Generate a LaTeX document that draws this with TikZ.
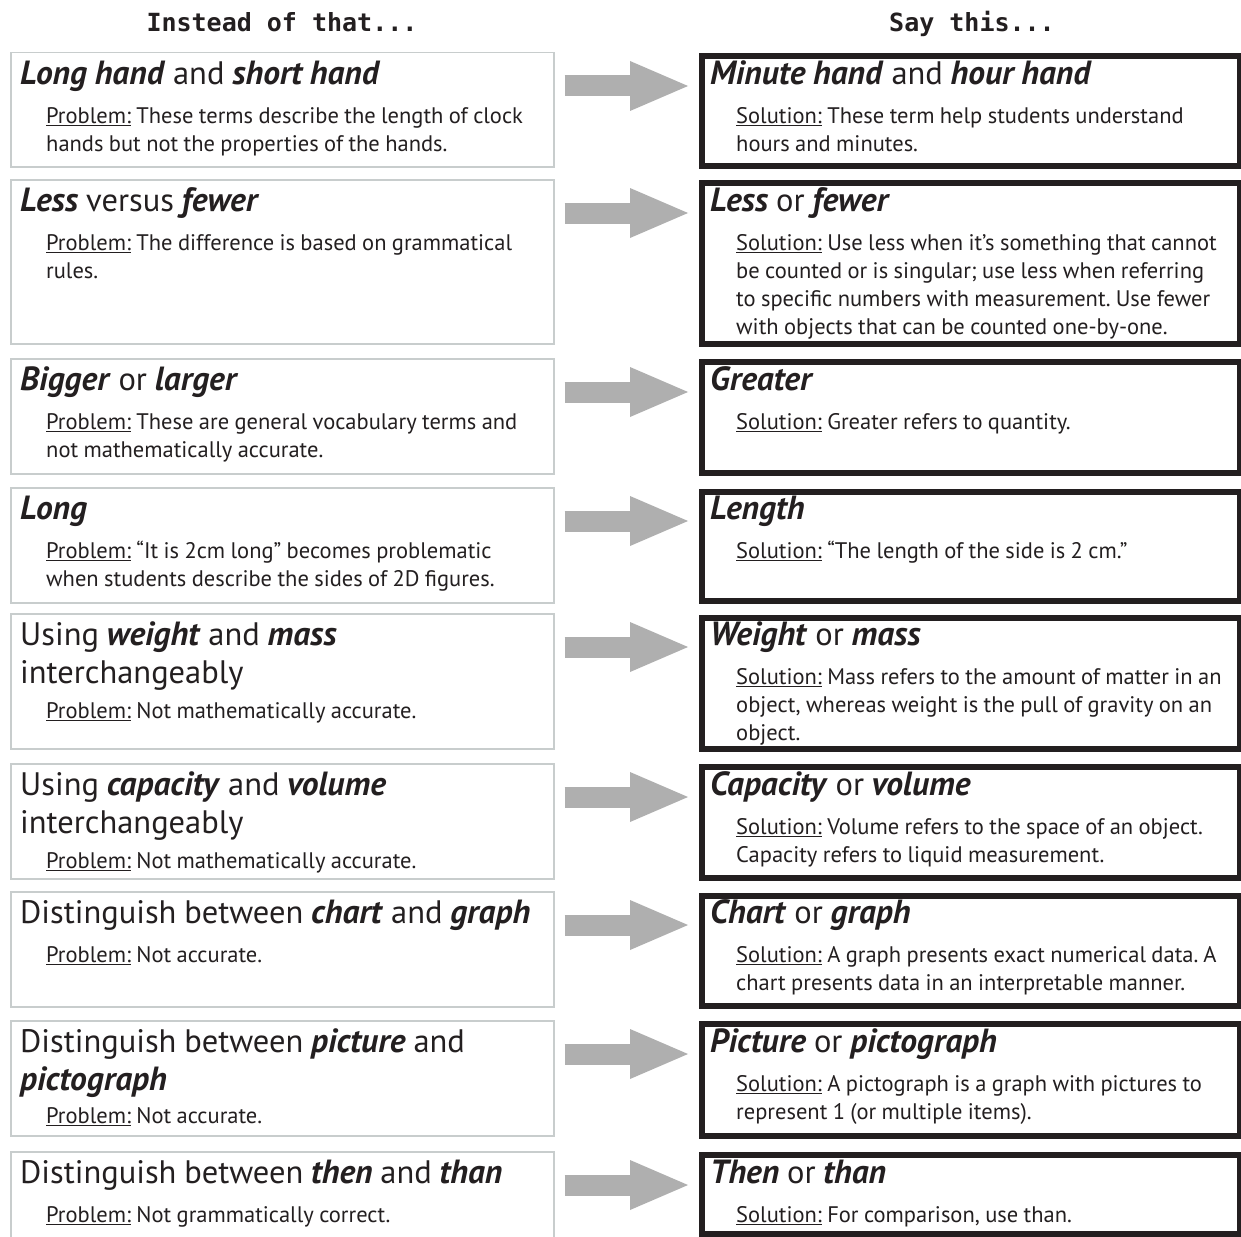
\documentclass[tikz,border=0pt]{standalone}
\usepackage{fontspec}
\setmainfont{PT Sans}
\newfontfamily\headfont{DejaVu Sans Mono}
\usetikzlibrary{arrows.meta}
\definecolor{ink}{HTML}{231F20}
\definecolor{lgray}{HTML}{C8CDCD}
\definecolor{agray}{HTML}{AFAFAF}
\setlength{\parindent}{0pt}
\newcommand{\tsz}{\fontsize{32.5}{38}\selectfont\spaceskip=0.24em plus 0.1em minus 0.05em\relax}
\newcommand{\bsz}{\fontsize{22.5}{28}\selectfont\spaceskip=0.24em plus 0.1em minus 0.05em\relax}
\newcommand{\kw}[1]{{\fontsize{33.5}{38}\selectfont\textbf{\textit{#1}}}}
\newcommand{\ttl}[1]{{\tsz\rule{0pt}{28pt}#1\par}}
\newcommand{\bdy}[2][11pt]{\vspace{#1}{\bsz\leftskip=26pt\relax #2\par}}
\newcommand{\prb}{\underline{Problem:} }
\newcommand{\sol}{\underline{Solution:} }
\tikzset{
 lcell/.style={draw=lgray, line width=1.5pt, fill=white, inner sep=0pt, minimum width=543pt, anchor=north west},
 rcell/.style={draw=ink, line width=6pt, fill=white, inner sep=0pt, minimum width=538pt, anchor=north west},
 cell text/.style={anchor=north west, inner sep=0pt, text width=560pt, align=left, text=ink},
 head/.style={anchor=base, inner sep=0pt, font=\headfont\bfseries\fontsize{25}{30}\selectfont, text=ink},
 swap arrow/.style={draw=agray, line width=21pt, -{Triangle[length=58pt,width=50pt,line width=0pt]}, shorten >=11pt},
}
\newcommand{\leftcell}[4]{%
 \node[lcell, minimum height={#3-#2}] (#1) at (10,#2) {};
 \node[cell text] (#1t) at (20,#2+4) {#4};
 \coordinate (#1a) at ([xshift=10pt,yshift=-34pt]#1.north east);}
\newcommand{\rightcell}[5]{%
 \node[rcell, minimum height={#3-#2-6}] (#1) at (699,#2+3) {};
 \node[cell text] (#1t) at (710,#4+4) {#5};}
\begin{document}
\begin{tikzpicture}[x=1pt,y=-1pt]
\useasboundingbox (0,0) rectangle (1241,1236);
\fill[white] (0,0) rectangle (1241,1236);
\node[head] (h1) at (282,32) {Instead of that...};
\node[head] (h2) at (972,32) {Say this...};

\leftcell{L1}{52}{166}{\ttl{\kw{Long hand} and \kw{short hand}}\bdy{\prb These terms describe the length of clock\\hands but not the properties of the hands.}}
\rightcell{R1}{50}{166}{52}{\ttl{\kw{Minute hand} and \kw{hour hand}}\bdy{\sol These term help students understand\\hours and minutes.}}

\leftcell{L2}{179}{343}{\ttl{\kw{Less} versus \kw{fewer}}\bdy{\prb The difference is based on grammatical\\rules.}}
\rightcell{R2}{177}{344}{179}{\ttl{\kw{Less} or \kw{fewer}}\bdy{\sol Use less when it’s something that cannot\\be counted or is singular; use less when referring\\to specific numbers with measurement. Use fewer\\with objects that can be counted one-by-one.}}

\leftcell{L3}{358}{473}{\ttl{\kw{Bigger} or \kw{larger}}\bdy{\prb These are general vocabulary terms and\\not mathematically accurate.}}
\rightcell{R3}{356}{473}{358}{\ttl{\kw{Greater}}\bdy{\sol Greater refers to quantity.}}

\leftcell{L4}{487}{602}{\ttl{\kw{Long}}\bdy{\prb “It is 2cm long” becomes problematic\\when students describe the sides of 2D figures.}}
\rightcell{R4}{486}{601}{487}{\ttl{\kw{Length}}\bdy{\sol “The length of the side is 2 cm.”}}

\leftcell{L5}{613}{748}{\ttl{Using \kw{weight} and \kw{mass}\\interchangeably}\bdy[7pt]{\prb Not mathematically accurate.}}
\rightcell{R5}{612}{749}{613}{\ttl{\kw{Weight} or \kw{mass}}\bdy{\sol Mass refers to the amount of matter in an\\object, whereas weight is the pull of gravity on an\\object.}}

\leftcell{L6}{763}{878}{\ttl{Using \kw{capacity} and \kw{volume}\\interchangeably}\bdy[7pt]{\prb Not mathematically accurate.}}
\rightcell{R6}{761}{878}{763}{\ttl{\kw{Capacity} or \kw{volume}}\bdy{\sol Volume refers to the space of an object.\\Capacity refers to liquid measurement.}}

\leftcell{L7}{891}{1006}{\ttl{Distinguish between \kw{chart} and \kw{graph}}\bdy{\prb Not accurate.}}
\rightcell{R7}{890}{1006}{891}{\ttl{\kw{Chart} or \kw{graph}}\bdy{\sol A graph presents exact numerical data. A\\chart presents data in an interpretable manner.}}

\leftcell{L8}{1020}{1135}{\ttl{Distinguish between \kw{picture} and\\\kw{pictograph}}\bdy[5pt]{\prb Not accurate.}}
\rightcell{R8}{1018}{1136}{1020}{\ttl{\kw{Picture} or \kw{pictograph}}\bdy{\sol A pictograph is a graph with pictures to\\represent 1 (or multiple items).}}

\leftcell{L9}{1151}{1262}{\ttl{Distinguish between \kw{then} and \kw{than}}\bdy{\prb Not grammatically correct.}}
\rightcell{R9}{1149}{1234}{1151}{\ttl{\kw{Then} or \kw{than}}\bdy{\sol For comparison, use than.}}

\foreach \i in {1,...,9}{\draw[swap arrow] (L\i a) -- (L\i a -| R\i.west);}
\end{tikzpicture}
\end{document}
